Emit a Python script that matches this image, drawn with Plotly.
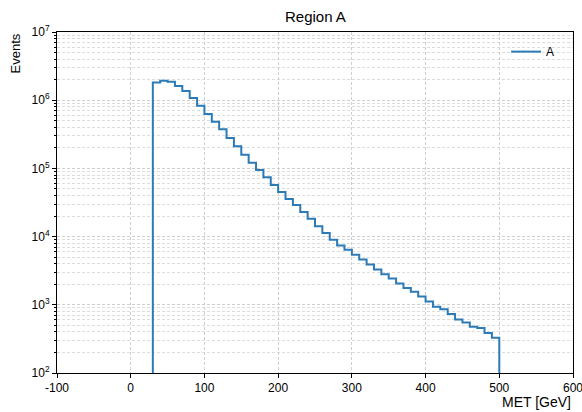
import plotly.graph_objects as go

# MET histogram, 10 GeV bins from 30 to 500 GeV
bin_edges = list(range(30, 501, 10))
events = [
    1.82e6, 1.93e6, 1.86e6, 1.62e6, 1.37e6, 1.08e6, 8.3e5,
    6.3e5, 4.85e5, 3.75e5, 2.78e5, 2.12e5, 1.58e5, 1.21e5, 9.5e4, 7.4e4, 5.7e4,
    4.5e4, 3.55e4, 2.9e4, 2.3e4, 1.82e4, 1.42e4, 1.13e4, 9.0e3, 7.4e3, 6.4e3,
    5.4e3, 4.6e3, 3.9e3, 3.3e3, 2.8e3, 2.42e3, 2.05e3, 1.76e3, 1.56e3, 1.32e3,
    1.12e3, 940, 860, 730, 610, 550, 475, 455, 385, 330,
]
series_name = "A"
x_ticks = [-100, 0, 100, 200, 300, 400, 500, 600]
y_decades = [2, 3, 4, 5, 6, 7]

# stairs outline: rises from below the axis at the first edge, drops at the last
baseline = 1.0
step_x = [bin_edges[0]] + bin_edges[:-1] + [bin_edges[-1]]
step_y = [baseline] + events + [baseline]

line_color = "#2c7bb6"
grid_color = "#cfcfcf"
grid_dash = "3px,2px"
font_family = "Liberation Sans, Arial, sans-serif"

fig = go.Figure()
fig.add_trace(go.Scatter(
    x=step_x, y=step_y, mode="lines", name=series_name,
    line=dict(color=line_color, width=2, shape="hv"),
))

fig.update_layout(
    width=582, height=412,
    margin=dict(l=57, r=9, t=32, b=39),
    paper_bgcolor="white", plot_bgcolor="white",
    font=dict(family=font_family, size=12, color="black"),
    showlegend=True,
    legend=dict(x=0.975, y=0.985, xanchor="right", yanchor="top",
                bgcolor="rgba(0,0,0,0)", font=dict(size=12),
                itemwidth=30),
    annotations=[
        dict(text="Region A", x=0.5, y=1, xref="paper", yref="paper",
             xanchor="center", yanchor="bottom", yshift=5, showarrow=False,
             font=dict(size=15)),
        dict(text="Events", x=0, y=1, xref="paper", yref="paper",
             xanchor="right", yanchor="top", xshift=-33, textangle=-90,
             showarrow=False, font=dict(size=13)),
        dict(text="MET [GeV]", x=1, y=0, xref="paper", yref="paper",
             xanchor="right", yanchor="top", yshift=-19, showarrow=False,
             font=dict(size=14)),
    ],
)

fig.update_xaxes(
    range=[-100, 600], tickvals=x_ticks, ticktext=[str(v) for v in x_ticks],
    ticklabeloverflow="allow", automargin=False,
    showline=True, linecolor="black", linewidth=1, mirror=True,
    ticks="outside", ticklen=4, tickcolor="black",
    showgrid=True, gridcolor=grid_color, griddash=grid_dash, gridwidth=0.8,
    zeroline=False,
)
fig.update_yaxes(
    type="log", range=[2, 7], automargin=False,
    tickvals=[10 ** d for d in y_decades],
    ticktext=[f"10<sup>{d}</sup>" for d in y_decades],
    showline=True, linecolor="black", linewidth=1, mirror=True,
    ticks="outside", ticklen=4, tickcolor="black",
    showgrid=True, gridcolor=grid_color, griddash=grid_dash, gridwidth=0.8,
    zeroline=False,
    minor=dict(ticks="outside", ticklen=2, tickcolor="black",
               showgrid=True, gridcolor="#dcdcdc", griddash=grid_dash,
               gridwidth=0.8, dtick="D1"),
)

fig.write_html("out.html")
